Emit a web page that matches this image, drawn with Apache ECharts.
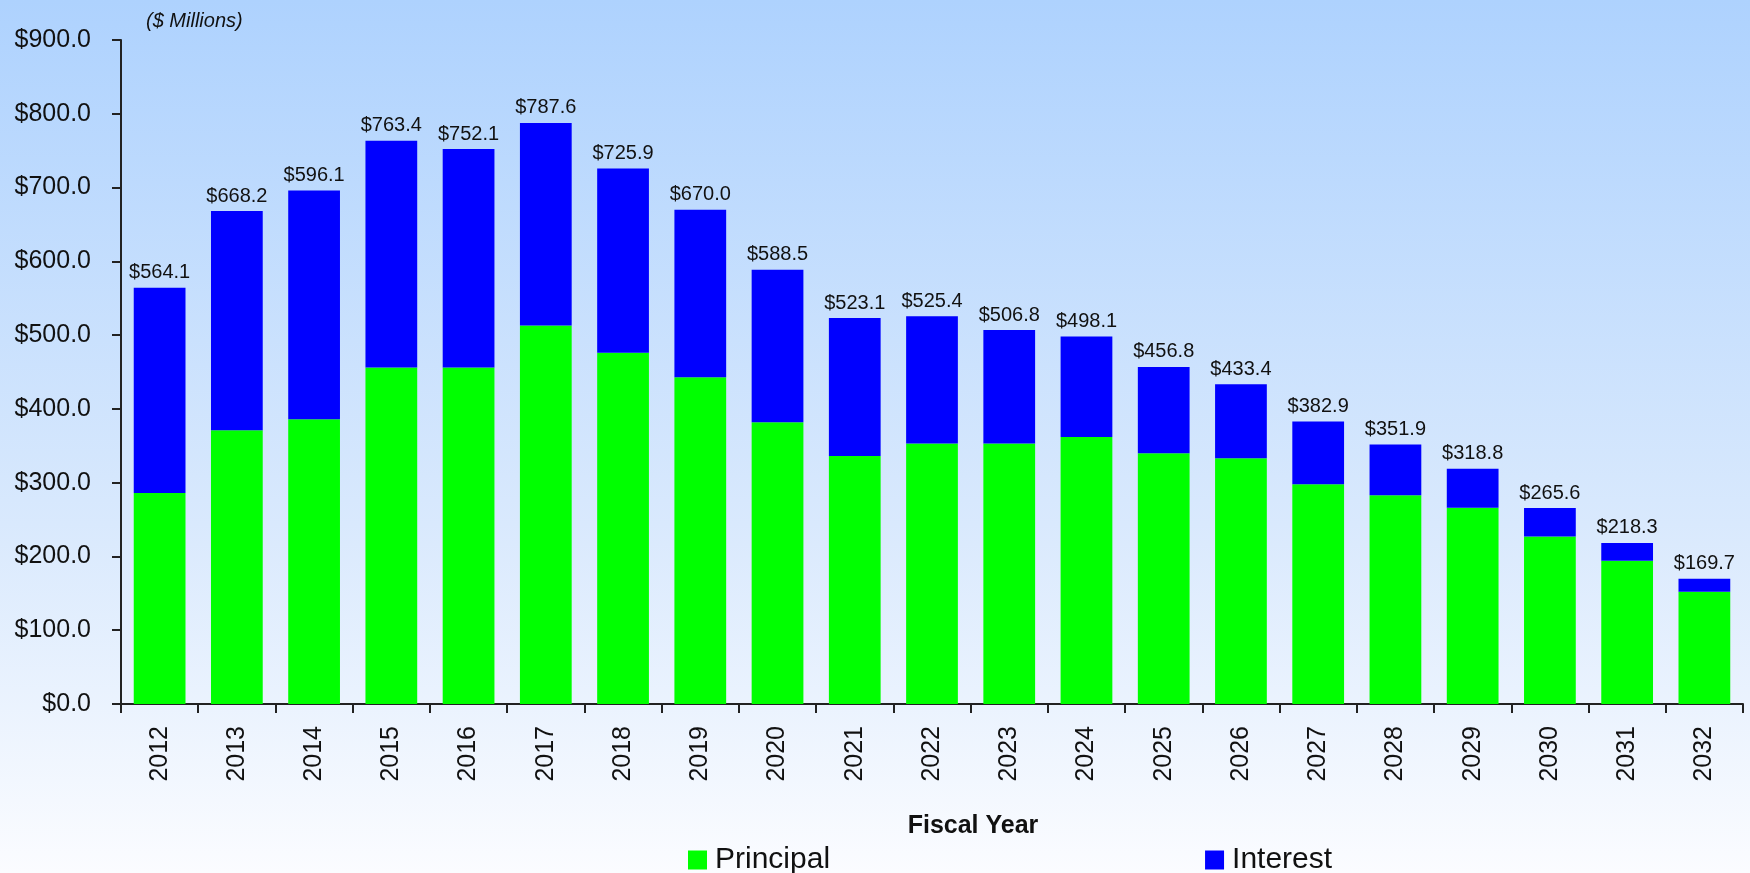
<!DOCTYPE html>
<html>
<head>
<meta charset="utf-8">
<script src="https://cdn.jsdelivr.net/npm/echarts@6/dist/echarts.min.js"></script>
<style>
html,body{margin:0;padding:0;}
#c{width:1750px;height:873px;background:linear-gradient(to bottom,#aed2fe 0%,#d9e9fd 60%,#fbfcff 100%);}
</style>
</head>
<body>
<div id="c"></div>
<script>
var years = ['2012','2013','2014','2015','2016','2017','2018','2019','2020','2021','2022','2023','2024','2025','2026','2027','2028','2029','2030','2031','2032'];
var principal = [286, 371, 386, 456, 456, 513, 476, 443, 382, 336, 353, 353, 362, 340, 333, 298, 283, 266, 227, 194, 152];
var interest = [278.1, 297.2, 310.1, 307.4, 296.1, 274.6, 249.9, 227.0, 206.5, 187.1, 172.4, 153.8, 136.1, 116.8, 100.4, 84.9, 68.9, 52.8, 38.6, 24.3, 17.7];
var totalLabels = ['$564.1','$668.2','$596.1','$763.4','$752.1','$787.6','$725.9','$670.0','$588.5','$523.1','$525.4','$506.8','$498.1','$456.8','$433.4','$382.9','$351.9','$318.8','$265.6','$218.3','$169.7'];
var yTicks = [0, 100, 200, 300, 400, 500, 600, 700, 800, 900];

var FONT = '"Liberation Sans", Arial, sans-serif';
var chart = echarts.init(document.getElementById('c'), null, {renderer:'canvas'});
chart.setOption({
  backgroundColor: 'transparent',
  animation: false,
  title: {
    text: '($ Millions)',
    left: 141, top: 6,
    textStyle: {fontFamily: FONT, fontSize: 20, fontStyle: 'italic', fontWeight: 'normal', color: '#111'}
  },
  legend: {
    left: 683, top: 840,
    itemWidth: 19, itemHeight: 19, itemGap: 375,
    icon: 'rect',
    textStyle: {fontFamily: FONT, fontSize: 30, color: '#111', padding: [0,0,0,3]},
    data: ['Principal', 'Interest']
  },
  grid: {left: 121, right: 7, top: 40, bottom: 169, containLabel: false},
  xAxis: {
    type: 'category',
    data: years,
    name: 'Fiscal Year',
    nameLocation: 'middle',
    nameGap: 110,
    nameTextStyle: {fontFamily: FONT, fontSize: 25, fontWeight: 'bold', color: '#111', padding: [0,0,0,82]},
    axisLine: {lineStyle: {color: '#222', width: 2}},
    axisTick: {show: true, length: 9, inside: false, lineStyle: {color: '#222', width: 2}},
    axisLabel: {rotate: 90, margin: 22, fontFamily: FONT, fontSize: 25, color: '#111'}
  },
  yAxis: {
    type: 'value',
    min: 0, max: 900, interval: 100,
    axisLine: {show: true, lineStyle: {color: '#222', width: 2}},
    axisTick: {show: true, length: 9, lineStyle: {color: '#222', width: 2}},
    splitLine: {show: false},
    axisLabel: {margin: 30, fontFamily: FONT, fontSize: 25, color: '#111',
      formatter: function(v){ return yTicks.indexOf(v) >= 0 ? '$' + v.toFixed(1) : ''; }}
  },
  series: [
    {name: 'Principal', type: 'bar', stack: 'total', data: principal, barWidth: '67%',
      itemStyle: {color: '#00ff00'}},
    {name: 'Interest', type: 'bar', stack: 'total', data: interest, barWidth: '67%',
      itemStyle: {color: '#0000ff'},
      label: {show: true, position: 'top', distance: 5, fontFamily: FONT, fontSize: 20, color: '#111',
        formatter: function(p){ return totalLabels[p.dataIndex]; }}}
  ]
});
</script>
</body>
</html>
